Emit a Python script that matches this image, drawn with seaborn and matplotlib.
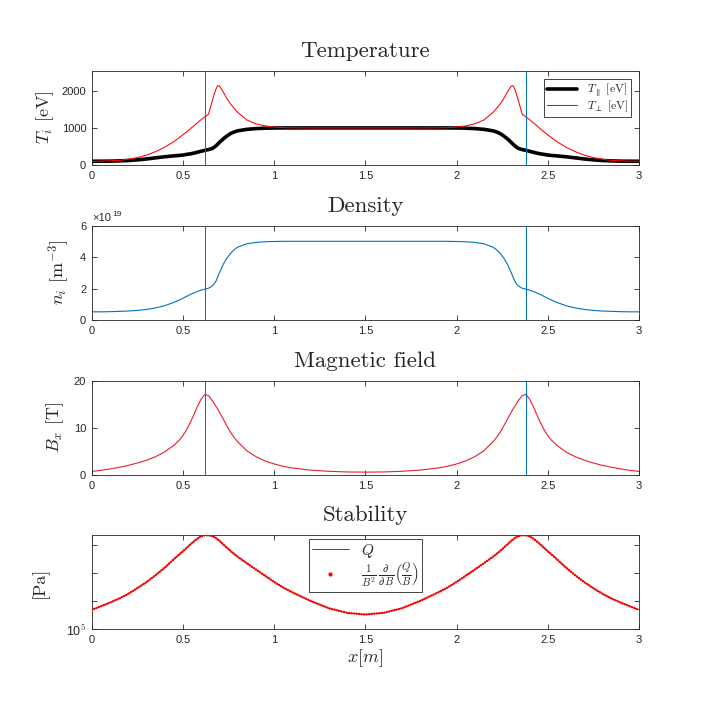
import numpy as np
import matplotlib
matplotlib.use("Agg")
import matplotlib.pyplot as plt
from matplotlib.lines import Line2D
import seaborn as sns

# Style
sns.set_theme(style="white")
plt.rcParams["font.family"] = ["Liberation Sans", "DejaVu Sans"]
plt.rcParams["mathtext.fontset"] = "cm"
plt.rcParams["axes.unicode_minus"] = False

# Data (x in m)
x_pos = [0, 0.05, 0.1, 0.15, 0.2, 0.25, 0.3, 0.35, 0.4, 0.45, 0.48, 0.5, 0.52, 0.54, 0.56,
         0.58, 0.6, 0.62, 0.64, 0.66, 0.67, 0.68, 0.69, 0.7, 0.72, 0.74, 0.76, 0.78, 0.8,
         0.85, 0.9, 0.95, 1.0, 1.05, 1.1, 1.2, 1.3, 1.4, 1.5,
         1.6, 1.7, 1.8, 1.9, 1.95, 2.0, 2.05, 2.1, 2.15, 2.2, 2.22, 2.24, 2.26, 2.28, 2.3,
         2.31, 2.32, 2.33, 2.34, 2.36, 2.38, 2.4, 2.42, 2.44, 2.46, 2.48, 2.5, 2.52, 2.55,
         2.6, 2.65, 2.7, 2.75, 2.8, 2.85, 2.9, 2.95, 3.0]

T_par = [100, 101, 103, 110, 120, 138, 162, 192, 222, 245, 258, 268, 285, 300, 320,
         345, 370, 395, 415, 445, 475, 515, 560, 610, 700, 780, 845, 890, 922,
         962, 982, 993, 998, 1000, 1000, 1000, 1000, 1000, 1000,
         1000, 1000, 1000, 1000, 1000, 998, 993, 982, 962, 922, 890, 845, 780, 700, 610,
         560, 515, 475, 445, 415, 395, 370, 345, 320, 300, 285, 268, 258, 245,
         222, 192, 162, 138, 120, 110, 103, 101, 100]

T_perp = [100, 103, 112, 122, 155, 200, 265, 360, 480, 630, 740, 815, 890, 975, 1060,
          1145, 1225, 1300, 1370, 1720, 1890, 2040, 2140, 2130, 1980, 1800, 1650, 1530, 1420,
          1215, 1110, 1055, 1022, 1008, 1003, 1000, 1000, 1000, 1000,
          1000, 1000, 1000, 1003, 1008, 1022, 1055, 1110, 1215, 1420, 1530, 1650, 1800, 1980, 2130,
          2140, 2040, 1890, 1720, 1370, 1300, 1225, 1145, 1060, 975, 890, 815, 740, 630,
          480, 360, 265, 200, 155, 122, 112, 103, 100]

n_e19 = [0.52, 0.52, 0.53, 0.55, 0.57, 0.61, 0.67, 0.77, 0.91, 1.12, 1.27, 1.38, 1.50, 1.62, 1.72,
         1.82, 1.90, 1.96, 2.02, 2.15, 2.28, 2.45, 2.72, 3.00, 3.52, 3.92, 4.22, 4.46, 4.63,
         4.84, 4.93, 4.97, 4.99, 5.0, 5.0, 5.0, 5.0, 5.0, 5.0,
         5.0, 5.0, 5.0, 5.0, 5.0, 4.99, 4.97, 4.93, 4.84, 4.63, 4.46, 4.22, 3.92, 3.52, 3.00,
         2.72, 2.45, 2.28, 2.15, 2.02, 1.96, 1.90, 1.82, 1.72, 1.62, 1.50, 1.38, 1.27, 1.12,
         0.91, 0.77, 0.67, 0.61, 0.57, 0.55, 0.53, 0.52, 0.52]

B_x = [0.78, 1.0, 1.3, 1.65, 2.05, 2.55, 3.15, 3.9, 4.9, 6.3, 7.4, 8.4, 9.6, 11.1, 12.8,
       14.6, 16.1, 17.05, 16.85, 15.8, 15.2, 14.6, 14.0, 13.3, 11.9, 10.5, 9.1, 8.0, 7.05,
       5.15, 3.9, 3.0, 2.35, 1.85, 1.5, 1.05, 0.8, 0.66, 0.62,
       0.66, 0.8, 1.05, 1.5, 1.85, 2.35, 3.0, 3.9, 5.15, 7.05, 8.0, 9.1, 10.5, 11.9, 13.3,
       14.0, 14.6, 15.2, 15.8, 16.85, 17.05, 16.1, 14.6, 12.8, 11.1, 9.6, 8.4, 7.4, 6.3,
       4.9, 3.9, 3.15, 2.55, 2.05, 1.65, 1.3, 1.0, 0.78]

Q_pa = [100685, 100810, 100940, 101080, 101250, 101450, 101665, 101910, 102180, 102480,
        102655, 102765, 102885, 103005, 103120, 103225, 103300, 103338, 103340, 103307,
        103277, 103240, 103192, 103137, 103015, 102895, 102780, 102670, 102570, 102335,
        102110, 101890, 101670, 101470, 101300, 101000, 100740, 100580, 100520,
        100580, 100740, 101000, 101300, 101470, 101670, 101890, 102110, 102335, 102570,
        102670, 102780, 102895, 103015, 103137, 103192, 103240, 103277, 103307, 103340,
        103338, 103300, 103225, 103120, 103005, 102885, 102765, 102655, 102480, 102180,
        101910, 101665, 101450, 101250, 101080, 100940, 100810, 100685]

coil_x = [0.62, 2.38]
x_ticks = [0, 0.5, 1, 1.5, 2, 2.5, 3]
x_tick_labels = ["0", "0.5", "1", "1.5", "2", "2.5", "3"]

x = np.array(x_pos)
n_m3 = np.array(n_e19) * 1e19

matlab_blue = "#0072BD"
spine_col = "#262626"
title_font = dict(family="cmr10", size=16.5)
label_font = dict(family="cmr10", size=13)

fig = plt.figure(figsize=(7.06, 7.08), dpi=100)
bottoms = [0.767, 0.548, 0.329, 0.111]
axes = [fig.add_axes([0.13, b, 0.775, 0.1334]) for b in bottoms]

for ax in axes:
    ax.set_xlim(0, 3)
    ax.set_xticks(x_ticks)
    ax.set_xticklabels(x_tick_labels)
    ax.tick_params(direction="in", length=3.5, width=0.6, color=spine_col,
                   labelsize=8, labelcolor=spine_col, top=True, right=True,
                   left=True, bottom=True, pad=4)
    for s in ax.spines.values():
        s.set_color(spine_col)
        s.set_linewidth(0.6)
    ax.set_facecolor("white")


def coil_lines(ax):
    for c in coil_x:
        ax.axvline(c, color=matlab_blue, linewidth=0.75, zorder=4)


# Temperature
ax = axes[0]
sns.lineplot(x=x, y=T_par, ax=ax, color="black", linewidth=2.6, label=r"$T_\parallel$ [eV]")
sns.lineplot(x=x, y=T_perp, ax=ax, color="red", linewidth=0.75, label=r"$T_\perp$ [eV]")
coil_lines(ax)
ax.set_ylim(0, 2550)
ax.set_yticks([0, 1000, 2000])
ax.set_ylabel(r"$T_i$ [eV]", fontdict=label_font, labelpad=4)
ax.set_title("Temperature", fontdict=title_font, pad=10)
leg = ax.legend(loc="upper right", frameon=True, fancybox=False,
                edgecolor=spine_col, framealpha=1, handlelength=2.6,
                borderpad=0.2, labelspacing=0.0, borderaxespad=0.7,
                prop={"family": "cmr10", "size": 8.5})
leg.get_frame().set_linewidth(0.6)

# Density
ax = axes[1]
sns.lineplot(x=x, y=n_m3, ax=ax, color=matlab_blue, linewidth=0.8)
coil_lines(ax)
ax.set_ylim(0, 6e19)
ax.set_yticks([0, 2e19, 4e19, 6e19])
ax.set_yticklabels(["0", "2", "4", "6"])
ax.set_ylabel(r"$n_i$ [m$^{-3}$]", fontdict=label_font, labelpad=6)
ax.set_title("Density", fontdict=title_font, pad=10)
ax.text(0.0, 1.03, "\u00d710", transform=ax.transAxes, fontsize=8, color=spine_col,
        ha="left", va="bottom")
ax.text(0.037, 1.075, "19", transform=ax.transAxes, fontsize=6, color=spine_col,
        ha="left", va="bottom")

# Magnetic field
ax = axes[2]
sns.lineplot(x=x, y=B_x, ax=ax, color="#e8202a", linewidth=0.8)
coil_lines(ax)
ax.set_ylim(0, 20)
ax.set_yticks([0, 10, 20])
ax.set_ylabel(r"$B_x$ [T]", fontdict=label_font, labelpad=6)
ax.set_title("Magnetic field", fontdict=title_font, pad=10)

# Stability
ax = axes[3]
q_line, = ax.plot(x, Q_pa, color="black", linewidth=0.5, zorder=2)
ax.plot(x, Q_pa, color="red", linewidth=1.8, linestyle=(0, (0.01, 1.0)),
        dash_capstyle="round", zorder=3)
ax.set_yscale("log")
ax.set_ylim(1e5, 1.0335e5)
ax.yaxis.set_minor_locator(matplotlib.ticker.NullLocator())
ax.set_yticks([1e5, 1.01e5, 1.02e5, 1.03e5])
ax.yaxis.set_major_formatter(matplotlib.ticker.FixedFormatter(["10$^5$", "", "", ""]))
ax.tick_params(axis="y", labelsize=9)
ax.set_ylabel("[Pa]", fontdict=label_font, labelpad=12)
ax.set_xlabel(r"$x[m]$", fontdict=label_font, labelpad=2)
ax.set_title("Stability", fontdict=title_font, pad=10)
dot_proxy = Line2D([], [], color="red", marker="o", markersize=2, linestyle="none")
leg = ax.legend([q_line, dot_proxy],
                [r"$Q$", r"$\frac{1}{B^2}\,\frac{\partial}{\partial B}\left(\frac{Q}{B}\right)$"],
                loc="upper center", fontsize=11, frameon=True, fancybox=False,
                edgecolor=spine_col, framealpha=1, handlelength=2.4,
                borderpad=0.2, labelspacing=0.05, borderaxespad=0.25)
leg.get_frame().set_linewidth(0.6)

fig.savefig("out.png", dpi=100, facecolor="white")
